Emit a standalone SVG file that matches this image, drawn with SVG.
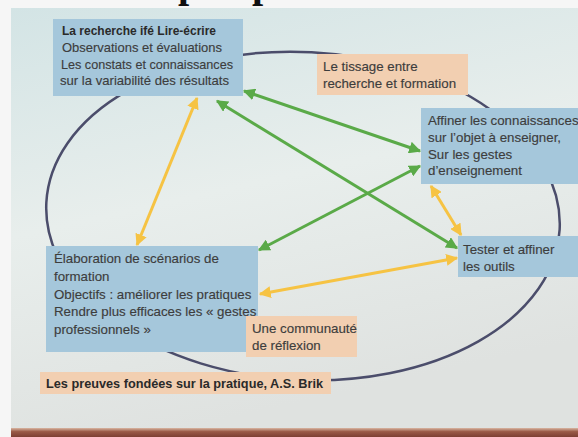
<svg xmlns="http://www.w3.org/2000/svg" width="578" height="437" viewBox="0 0 578 437">
  <defs>
    <linearGradient id="slideBg" x1="0" y1="0" x2="0.3" y2="1">
      <stop offset="0" stop-color="#d3e4e5"/>
      <stop offset="0.5" stop-color="#e8eeec"/>
      <stop offset="1" stop-color="#dfe2e0"/>
    </linearGradient>
    <linearGradient id="edge" x1="0" y1="0" x2="0" y2="1">
      <stop offset="0" stop-color="#d9b6a2"/>
      <stop offset="0.4" stop-color="#9a5a47"/>
      <stop offset="1" stop-color="#7d3f33"/>
    </linearGradient>
    <marker id="headG" viewBox="0 0 10 10" refX="9" refY="5" markerWidth="4" markerHeight="4" orient="auto-start-reverse" markerUnits="strokeWidth">
      <path d="M0,0 L10,5 L0,10 z" fill="#5aaa48"/>
    </marker>
    <marker id="headY" viewBox="0 0 10 10" refX="9" refY="5" markerWidth="4" markerHeight="4" orient="auto-start-reverse" markerUnits="strokeWidth">
      <path d="M0,0 L10,5 L0,10 z" fill="#f6c343"/>
    </marker>
    <style>
      .t { font-family: "Liberation Sans", Arial, sans-serif; font-size: 13.3px; fill: #3d3d3d; stroke: #3d3d3d; stroke-width: 0.15px; }
      .b { font-weight: bold; fill: #2a2a2a; stroke: none; }
      .blue { fill: #a5c7db; }
      .orange { fill: #f2cfb1; }
      .g { stroke: #5aaa48; stroke-width: 3; fill: none; marker-start: url(#headG); marker-end: url(#headG); }
      .y { stroke: #f6c343; stroke-width: 3; fill: none; marker-start: url(#headY); marker-end: url(#headY); }
      .title { font-family: "Liberation Serif", serif; font-size: 40px; font-weight: bold; fill: #111; }
    </style>
  </defs>

  <!-- page behind the slide, with the foot of the heading -->
  <rect x="0" y="0" width="578" height="437" fill="#f6f6f6"/>
  <text class="title" x="178" y="-3">p</text>
  <text class="title" x="252" y="-3">p</text>

  <!-- slide -->
  <rect x="11" y="8" width="567" height="421" fill="url(#slideBg)"/>
  <rect x="11" y="428" width="567" height="9" fill="url(#edge)"/>

  <!-- cycle -->
  <ellipse cx="303" cy="216" rx="257" ry="164" transform="rotate(3 303 216)" fill="none" stroke="#4b4d6b" stroke-width="2.5"/>

  <g id="recherche">
    <rect class="blue" x="53" y="19" width="190" height="77"/>
    <text class="t b" x="62" y="35" textLength="154" lengthAdjust="spacingAndGlyphs">La recherche ifé Lire-écrire</text>
    <text class="t" x="62" y="52" textLength="160" lengthAdjust="spacingAndGlyphs">Observations et évaluations</text>
    <text class="t" x="61" y="68.5" textLength="172" lengthAdjust="spacingAndGlyphs">Les constats et connaissances</text>
    <text class="t" x="60" y="85" textLength="169" lengthAdjust="spacingAndGlyphs">sur la variabilité des résultats</text>
  </g>

  <g id="tissage">
    <rect class="orange" x="317" y="54" width="151" height="41"/>
    <text class="t" x="323" y="71">Le tissage entre</text>
    <text class="t" x="323" y="88">recherche et formation</text>
  </g>

  <g id="affiner">
    <rect class="blue" x="421" y="108" width="157" height="76"/>
    <text class="t" x="428" y="125">Affiner les connaissances</text>
    <text class="t" x="428" y="142">sur l’objet à enseigner,</text>
    <text class="t" x="428" y="158.5">Sur les gestes</text>
    <text class="t" x="428" y="175">d’enseignement</text>
  </g>

  <g id="tester">
    <rect class="blue" x="458" y="236" width="120" height="41"/>
    <text class="t" x="463" y="254">Tester et affiner</text>
    <text class="t" x="463" y="271">les outils</text>
  </g>

  <g id="elaboration">
    <rect class="blue" x="46" y="246" width="212" height="106"/>
    <text class="t" x="54" y="263">Élaboration de scénarios de</text>
    <text class="t" x="54" y="281">formation</text>
    <text class="t" x="54" y="298.5">Objectifs : améliorer les pratiques</text>
    <text class="t" x="54" y="316">Rendre plus efficaces les « gestes</text>
    <text class="t" x="54" y="334">professionnels »</text>
  </g>

  <g id="communaute">
    <rect class="orange" x="246" y="316" width="111" height="41"/>
    <text class="t" x="252" y="333">Une communauté</text>
    <text class="t" x="252" y="350">de réflexion</text>
  </g>

  <g id="preuves">
    <rect class="orange" x="40" y="372" width="291" height="22"/>
    <text class="t b" x="46" y="388" textLength="277" lengthAdjust="spacingAndGlyphs">Les preuves fondées sur la pratique, A.S. Brik</text>
  </g>

  <g id="connectors">
    <line class="g" x1="244" y1="91" x2="420" y2="151"/>
    <line class="g" x1="217" y1="101" x2="457" y2="248"/>
    <line class="g" x1="259" y1="250" x2="420" y2="166"/>
    <line class="y" x1="197" y1="98" x2="137" y2="245"/>
    <line class="y" x1="431" y1="186" x2="461" y2="235"/>
    <line class="y" x1="260" y1="294" x2="457" y2="258"/>
  </g>
</svg>
